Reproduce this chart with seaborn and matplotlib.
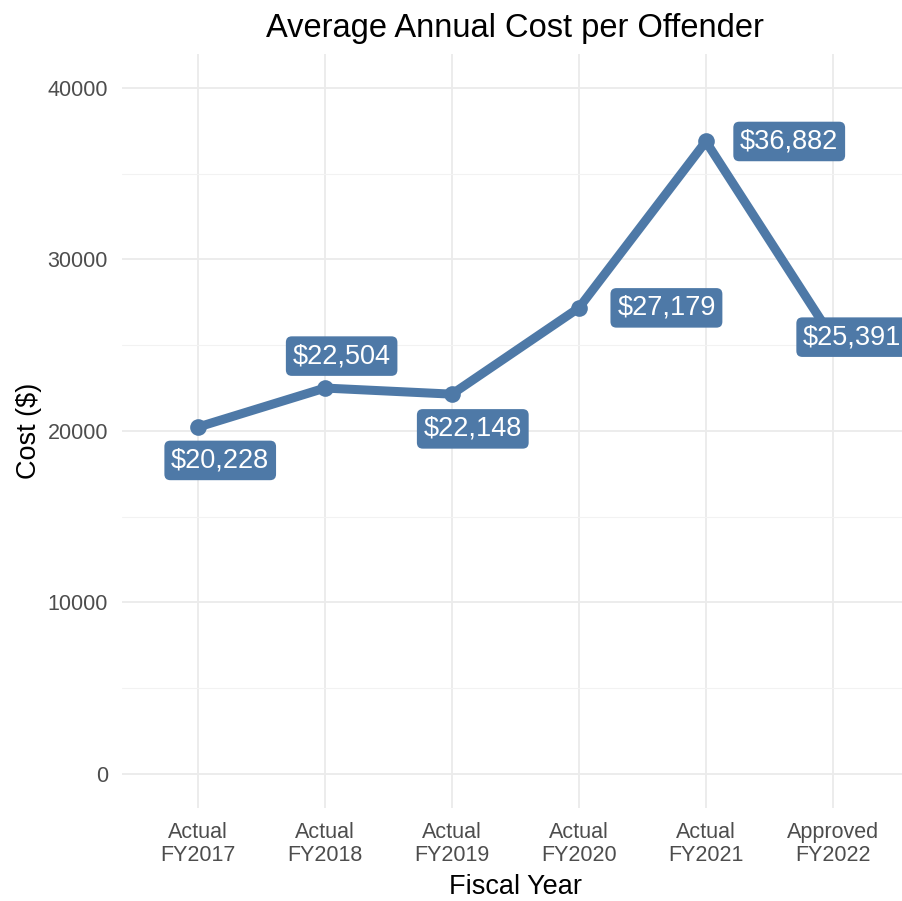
import matplotlib
matplotlib.use("Agg")
import matplotlib.pyplot as plt
import seaborn as sns
import pandas as pd

# data
years = ["Actual\nFY2017", "Actual\nFY2018", "Actual\nFY2019",
         "Actual\nFY2020", "Actual\nFY2021", "Approved\nFY2022"]
cost = [20228, 22504, 22148, 27179, 36882, 25391]
cost_labels = ["$20,228", "$22,504", "$22,148", "$27,179", "$36,882", "$25,391"]
y_ticks = [0, 10000, 20000, 30000, 40000]

# label offsets from their point, in points (repel-style placement)
label_offsets = [(16, -24), (12, 23), (15, -25), (63, 0), (60, 0), (14, 1)]

BLUE = "#4E79A7"

sns.set_style("white")
plt.rcParams["font.family"] = ["Liberation Sans", "DejaVu Sans"]

df = pd.DataFrame({"year": years, "cost": cost})

fig = plt.figure(figsize=(9.03, 9.01), dpi=100)
ax = fig.add_axes([0.1349, 0.1029, 0.8718, 0.8375])

sns.lineplot(data=df, x="year", y="cost", color=BLUE, linewidth=6.5,
             marker="o", markersize=12, markeredgewidth=0, sort=False, ax=ax)

for i, (lab, off) in enumerate(zip(cost_labels, label_offsets)):
    ax.annotate(lab, xy=(i, cost[i]), xytext=off, textcoords="offset points",
                ha="center", va="center", color="white", fontsize=19.5,
                bbox=dict(boxstyle="round,pad=0.25,rounding_size=0.22",
                          fc=BLUE, ec="none"),
                annotation_clip=False, clip_on=False)

ax.set_xlim(-0.6, 5.6)
ax.set_ylim(-2000, 42000)
ax.set_yticks(y_ticks)
ax.set_yticks([5000, 15000, 25000, 35000], minor=True)
ax.set_yticklabels([str(v) for v in y_ticks])

ax.grid(True, which="major", color="#EBEBEB", linewidth=1.3)
ax.grid(True, which="minor", axis="y", color="#F2F2F2", linewidth=0.8)
ax.set_axisbelow(True)
for s in ax.spines.values():
    s.set_visible(False)

ax.tick_params(axis="both", which="both", length=0, labelsize=15.5,
               labelcolor="#4D4D4D")
ax.tick_params(axis="x", pad=10)
ax.tick_params(axis="y", pad=10)
for t in ax.get_xticklabels():
    t.set_linespacing(1.1)

ax.set_xlabel("Fiscal Year", fontsize=19.5, color="black", labelpad=6)
ax.set_ylabel("Cost ($)", fontsize=19.5, color="black", labelpad=4)
ax.set_title("Average Annual Cost per Offender", fontsize=23.5, pad=12,
             color="black")

fig.savefig("out.png", dpi=100)
